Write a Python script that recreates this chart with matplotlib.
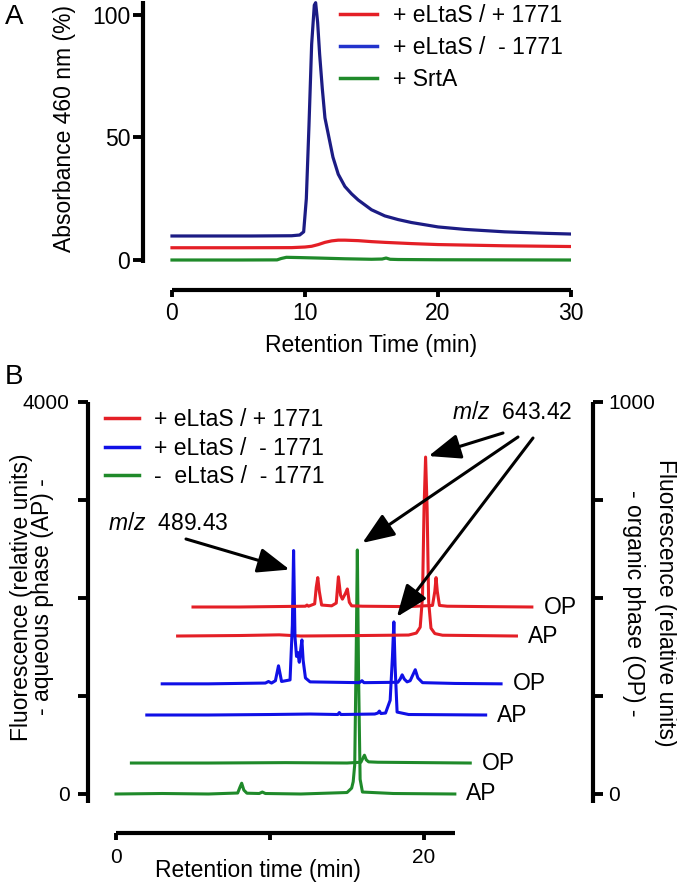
import matplotlib.pyplot as plt
import numpy as np
from matplotlib.lines import Line2D
from matplotlib.transforms import offset_copy

plt.rcParams['font.family'] = ['Liberation Sans', 'DejaVu Sans']
plt.rcParams['mathtext.fontset'] = 'custom'
plt.rcParams['mathtext.it'] = 'Liberation Sans:italic'
plt.rcParams['mathtext.rm'] = 'Liberation Sans'

W, H = 677, 885

# ---------------- panel A data (absorbance 460 nm, %)
a_labels = ['+ eLtaS / + 1771', '+ eLtaS /  - 1771', '+ SrtA']
a_red_t = [0, 5, 9, 10, 10.5, 11, 11.5, 12, 12.5, 13, 14, 15, 16, 18, 20, 25, 30]
a_red_v = [5.0, 5.0, 5.05, 5.3, 5.6, 6.3, 7.2, 7.8, 8.1, 8.1, 7.9, 7.5, 7.2, 6.7, 6.3, 5.8, 5.5]
a_blue_t = [0, 3, 6, 9, 9.6, 9.9, 10.1, 10.3, 10.5, 10.7, 10.8, 10.95, 11.1, 11.3, 11.5,
            11.8, 12.1, 12.5, 13, 13.5, 14, 15, 16, 17, 18, 20, 22, 25, 28, 30]
a_blue_v = [9.8, 9.8, 9.8, 9.9, 10.2, 11.5, 25, 55, 88, 104, 105, 97, 84, 70, 58,
            50, 42, 35, 30, 27, 24.5, 20.5, 18, 16.5, 15.3, 13.5, 12.5, 11.5, 10.9, 10.6]
a_green_t = [0, 5, 7.9, 8.2, 8.6, 9.5, 11, 13, 15, 15.8, 16.1, 16.4, 17, 20, 25, 30]
a_green_v = [0, 0, 0.05, 0.6, 1.1, 1.0, 0.8, 0.5, 0.3, 0.4, 0.8, 0.3, 0.2, 0.1, 0.05, 0]

# ---------------- panel B data (fluorescence; AP in left units, OP in right units)
b_labels = ['+ eLtaS / + 1771', '+ eLtaS /  - 1771', '-  eLtaS /  - 1771']

green_ap_t = [0, 3, 6, 7.9, 8.05, 8.16, 8.3, 8.5, 9.3, 9.5, 9.7, 12, 15.0, 15.3, 15.4,
              15.5, 15.6, 15.67, 15.75, 15.85, 16.0, 18, 22]
green_ap_v = [0, 5, 0, 10, 70, 110, 40, 8, 5, 20, 5, 0, 15, 60, 125,
              300, 1500, 2490, 1200, 150, 20, 5, 0]
green_op_t = [0, 5, 10, 14.0, 14.9, 15.05, 15.13, 15.25, 15.4, 16, 19, 22]
green_op_v = [0, 0, 1, 0, 2, 14, 20, 8, 3, 2, 1, 0]

blue_ap_t = [0, 4, 8.0, 10.6, 12.4, 12.5, 12.6, 14.8, 15.0, 15.1, 15.2, 15.5, 15.8,
             15.95, 16.04, 16.12, 16.25, 17, 22]
blue_ap_v = [0, 0, 5, 10, 5, 25, 5, 10, 20, 40, 15, 20, 150, 600, 950, 500, 30, 5, 0]
blue_op_t = [0, 3, 6.7, 6.9, 7.1, 7.35, 7.55, 7.75, 8.3, 8.45, 8.53, 8.62, 8.72, 8.80,
             8.9, 9.0, 9.07, 9.15, 9.3, 9.6, 12.8, 12.97, 13.1, 15.3, 15.45, 15.58,
             15.72, 15.9, 16.1, 16.3, 16.43, 16.6, 16.9, 19, 22]
blue_op_v = [0, 0, 2, 6, 2, 8, 46, 6, 10, 150, 340, 120, 70, 80,
             55, 90, 112, 60, 15, 5, 3, 8, 3, 4, 12, 23,
             12, 5, 8, 25, 36, 15, 3, 1, 0]

red_ap_t = [0, 4, 6.6, 8, 12, 15.0, 15.5, 15.75, 15.9, 16.0, 16.1, 16.2, 16.3, 16.45,
            16.7, 17.2, 22]
red_ap_v = [0, 5, 12, 0, 5, 10, 30, 90, 400, 1300, 1826, 1300, 350, 80, 25, 8, 0]
red_op_t = [0, 3, 7.3, 7.4, 7.5, 7.9, 8.0, 8.1, 8.2, 8.35, 9.0, 9.3, 9.44, 9.58, 9.7,
            9.9, 10.02, 10.15, 10.3, 11, 14, 15.55, 15.7, 15.78, 15.86, 16.0, 16.5, 19, 22]
red_op_v = [0, 0, 2, 5, 2, 8, 50, 75, 40, 5, 3, 10, 77, 30, 20,
            35, 46, 12, 3, 2, 1, 4, 40, 75, 40, 4, 2, 1, 0]

# stacking offsets (x in min, y in the units of the trace's own axis)
b_phase = ['AP', 'OP', 'AP', 'OP', 'AP', 'OP']
b_shift_x = [0, 1, 2, 3, 4, 5]
b_shift_y = [0, 79, 806, 281, 1612, 477]

red, blue_a, blue_b, green = '#e41f26', '#1c1c84', '#1010e6', '#1f8a2a'


def box(l, t, r, b):
    return [l / W, 1 - b / H, (r - l) / W, (b - t) / H]


def style_spines(ax, lw=3.0):
    for s in ax.spines.values():
        s.set_linewidth(lw)
        s.set_capstyle('butt')


fig = plt.figure(figsize=(W / 100, H / 100), dpi=100)

# ================= panel A
axA = fig.add_axes(box(143, 0, 571, 290))
axA.plot(a_blue_t, a_blue_v, color=blue_a, lw=2.3)
axA.plot(a_red_t, a_red_v, color=red, lw=2.3)
axA.plot(a_green_t, a_green_v, color=green, lw=2.3)
axA.set_xlim(-2.18, 30)
axA.set_ylim(-12.24, 106.1)
style_spines(axA)
axA.spines['top'].set_visible(False)
axA.spines['right'].set_visible(False)
axA.spines['left'].set_bounds(-1.3, 105.5)
axA.spines['bottom'].set_bounds(0, 30)
axA.set_xticks([0, 10, 20, 30])
axA.set_yticks([0, 50, 100])
axA.tick_params(axis='y', length=7.2, width=2.8, labelsize=16.5, pad=2)
axA.tick_params(axis='x', length=5, width=2.8, labelsize=16.5, pad=4)
axA.legend([Line2D([], [], color=c, lw=2.5) for c in (red, '#2233cc', green)], a_labels,
           loc='upper left', bbox_to_anchor=(340 / W, 1 - 4 / H),
           bbox_transform=fig.transFigure, frameon=False, fontsize=16.5,
           handlelength=1.6, handletextpad=0.7, labelspacing=0.4,
           borderpad=0, borderaxespad=0)
fig.text(65 / W, 1 - 128 / H, 'Absorbance 460 nm (%)', rotation=90,
         ha='center', va='center', fontsize=16.5)
fig.text(371 / W, 1 - 345 / H, 'Retention Time (min)', ha='center', va='center',
         fontsize=16.5)
fig.text(14 / W, 1 - 17 / H, 'A', ha='center', va='center', fontsize=20)

# ================= panel B
axB = fig.add_axes(box(88, 396, 593, 833))
ax2 = axB.twinx()
axB.set_xlim(-1.818, 30.97)
axB.set_ylim(-398, 4061)
ax2.set_ylim(-398 / 4, 4061 / 4)

traces = [(green_ap_t, green_ap_v, green), (green_op_t, green_op_v, green),
          (blue_ap_t, blue_ap_v, blue_b), (blue_op_t, blue_op_v, blue_b),
          (red_ap_t, red_ap_v, red), (red_op_t, red_op_v, red)]
peaks = []
for (t, v, c), ph, sx, sy in zip(traces, b_phase, b_shift_x, b_shift_y):
    ax = axB if ph == 'AP' else ax2
    t = np.array(t) + sx
    v = np.array(v) + sy
    ax.plot(t, v, color=c, lw=2.2, solid_joinstyle='round')
    ax.text(t[-1] + 0.75, sy, ph, ha='left', va='center', fontsize=16.5)
    k = np.argmax(v)
    peaks.append((ax, t[k], v[k]))

style_spines(axB)
style_spines(ax2)
for s in ['top', 'right']:
    axB.spines[s].set_visible(False)
for s in ['top', 'left', 'bottom']:
    ax2.spines[s].set_visible(False)
axB.spines['left'].set_bounds(-90, 4000)
axB.spines['bottom'].set_bounds(0, 22)
ax2.spines['right'].set_bounds(-22, 1000)
axB.set_xticks([0, 10, 20], ['0', '', '20'])
axB.set_yticks([0, 1000, 2000, 3000, 4000], ['0', '', '', '', '4000'])
ax2.set_yticks([0, 250, 500, 750, 1000], ['0', '', '', '', '1000'])
axB.tick_params(axis='y', length=7.2, width=2.8, labelsize=15, pad=6)
axB.tick_params(axis='x', length=5, width=2.8, labelsize=15, pad=6)
ax2.tick_params(axis='y', length=7.2, width=2.8, labelsize=15, pad=4)

axB.legend([Line2D([], [], color=c, lw=2.5) for c in (red, blue_b, green)], b_labels,
           loc='upper left', bbox_to_anchor=(105 / W, 1 - 408 / H),
           bbox_transform=fig.transFigure, frameon=False, fontsize=16.5,
           handlelength=1.5, handletextpad=0.65, labelspacing=0.25,
           borderpad=0, borderaxespad=0)

# m/z annotations
aprops = dict(arrowstyle='-|>,head_length=1.4,head_width=0.55', color='black',
              lw=2.2, shrinkA=0, shrinkB=0, mutation_scale=14)
fig.text(108 / W, 1 - 523 / H, r'$\mathit{m/z}$  489.43', ha='left', va='center',
         fontsize=16.5)
fig.text(452 / W, 1 - 412 / H, r'$\mathit{m/z}$  643.42', ha='left', va='center',
         fontsize=16.5)


def arrow(peak, dx, dy, sx, sy):
    ax, x, y = peak
    ax2.annotate('', xy=(x, y), xycoords=offset_copy(ax.transData, fig=fig, x=dx, y=dy,
                                                     units='dots'),
                 xytext=(sx, H - sy), textcoords='figure pixels', arrowprops=aprops)


arrow(peaks[3], -4, -19, 186, 539)   # blue OP
arrow(peaks[4], 3, 1, 503, 433)      # red AP
arrow(peaks[0], 5, 7, 518, 437)      # green AP
arrow(peaks[2], 3, 5, 533, 438)      # blue AP

fig.text(22 / W, 1 - 597 / H, 'Fluorescence (relative units)', rotation=90,
         ha='center', va='center', fontsize=16.5)
fig.text(43 / W, 1 - 597 / H, '- aqueous phase (AP) -', rotation=90,
         ha='center', va='center', fontsize=16.5)
fig.text(665 / W, 1 - 603 / H, 'Fluorescence (relative units)', rotation=270,
         ha='center', va='center', fontsize=16.5)
fig.text(634 / W, 1 - 603 / H, '- organic phase (OP) -', rotation=270,
         ha='center', va='center', fontsize=16.5)
fig.text(258 / W, 1 - 871 / H, 'Retention time (min)', ha='center', va='center',
         fontsize=16.5)
fig.text(14 / W, 1 - 377 / H, 'B', ha='center', va='center', fontsize=20)

fig.savefig('out.png', dpi=100)
